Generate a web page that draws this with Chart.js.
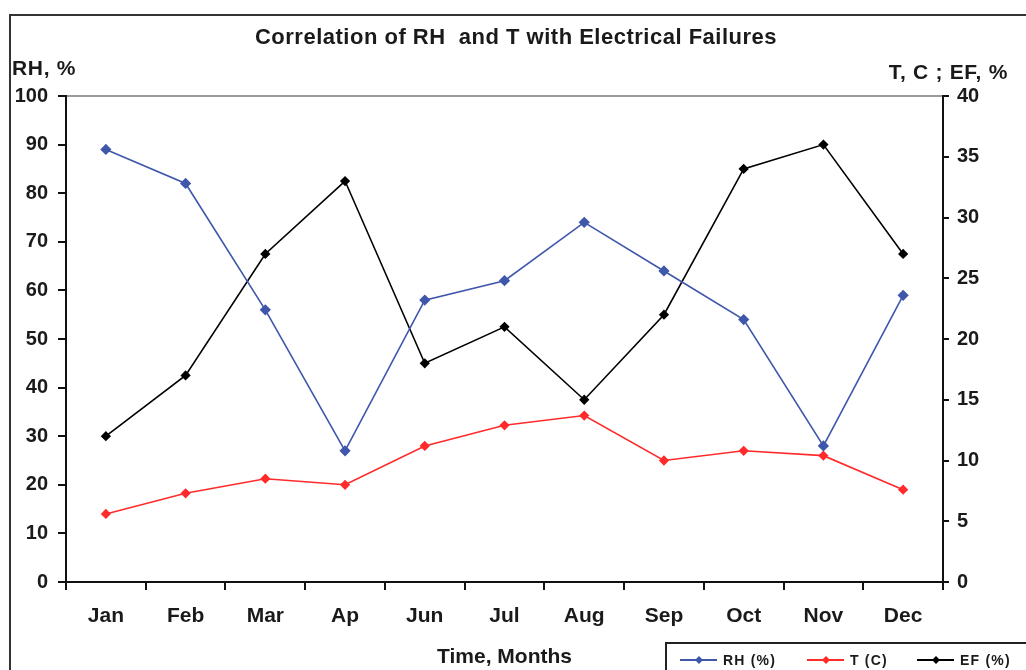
<!DOCTYPE html>
<html>
<head>
<meta charset="utf-8">
<script src="https://cdn.jsdelivr.net/npm/chart.js@4.4.0/dist/chart.umd.min.js"></script>
<style>
  html, body { margin: 0; padding: 0; background: #fff; }
  #wrap { width: 1026px; height: 670px; }
</style>
</head>
<body>
<div id="wrap"><canvas id="chart" width="1026" height="670"></canvas></div>
<script>
const months = ["Jan", "Feb", "Mar", "Ap", "Jun", "Jul", "Aug", "Sep", "Oct", "Nov", "Dec"];
const rh = [89, 82, 56, 27, 58, 62, 74, 64, 54, 28, 59];       // left axis, %
const temp = [5.6, 7.3, 8.5, 8.0, 11.2, 12.9, 13.7, 10.0, 10.8, 10.4, 7.6]; // right axis
const ef = [12, 17, 27, 33, 18, 21, 15, 22, 34, 36, 27];        // right axis, %

const FONT = "'Liberation Sans', Arial, sans-serif";
const TXT = '#1a1a1a';

// frame, titles and legend box
const extras = {
  id: 'extras',
  beforeDraw(chart) {
    const c = chart.ctx;
    c.save();
    c.fillStyle = '#fff';
    c.fillRect(0, 0, chart.width, chart.height);
    c.strokeStyle = '#333';
    c.lineWidth = 2;
    c.strokeRect(10, 15, 1100, 700);
    c.restore();
  },
  afterDraw(chart) {
    const c = chart.ctx;
    c.save();
    c.fillStyle = TXT;
    c.textBaseline = 'middle';
    c.letterSpacing = '0.5px';
    c.font = 'bold 22px ' + FONT;
    c.textAlign = 'center';
    c.fillText('Correlation of RH  and T with Electrical Failures', 516, 38);
    c.letterSpacing = '0.7px';
    c.font = 'bold 21px ' + FONT;
    c.textAlign = 'left';
    c.fillText('RH, %', 12, 69);
    c.textAlign = 'right';
    c.fillText('T, C ; EF, %', 1008, 73);

    // legend
    c.strokeStyle = '#222';
    c.lineWidth = 2;
    c.strokeRect(666, 643, 400, 60);
    const xs = [680, 807, 917];
    const names = ['RH (%)', 'T (C)', 'EF (%)'];
    chart.data.datasets.forEach((ds, i) => {
      const x = xs[i], y = 660;
      c.strokeStyle = ds.borderColor;
      c.lineWidth = 2;
      c.beginPath(); c.moveTo(x, y); c.lineTo(x + 37, y); c.stroke();
      c.fillStyle = ds.borderColor;
      c.beginPath();
      c.moveTo(x + 19, y - 4); c.lineTo(x + 23, y); c.lineTo(x + 19, y + 4); c.lineTo(x + 15, y);
      c.closePath(); c.fill();
      c.fillStyle = TXT;
      c.font = 'bold 14px ' + FONT;
      c.letterSpacing = '1.2px';
      c.textAlign = 'left';
      c.fillText(names[i], x + 43, y + 1);
    });
    c.restore();
  }
};

new Chart(document.getElementById('chart'), {
  type: 'line',
  data: {
    labels: months,
    datasets: [
      { label: 'RH (%)', data: rh, yAxisID: 'y', borderColor: '#3f57ab', backgroundColor: '#3f57ab',
        borderWidth: 1.6, pointStyle: 'rectRot', pointRadius: 4.5, tension: 0 },
      { label: 'T (C)', data: temp, yAxisID: 'y1', borderColor: '#ff2b2b', backgroundColor: '#ff2b2b',
        borderWidth: 1.6, pointStyle: 'rectRot', pointRadius: 4, tension: 0 },
      { label: 'EF (%)', data: ef, yAxisID: 'y1', borderColor: '#000', backgroundColor: '#000',
        borderWidth: 1.6, pointStyle: 'rectRot', pointRadius: 4, tension: 0 }
    ]
  },
  options: {
    responsive: false,
    animation: false,
    layout: { padding: { top: 96, left: 0, right: 0, bottom: 0 } },
    plugins: { legend: { display: false }, title: { display: false }, tooltip: { enabled: false } },
    scales: {
      x: {
        offset: true,
        afterFit: s => { s.height = 88; },
        grid: { offset: true, drawOnChartArea: false, color: '#111', lineWidth: 2, tickLength: 8 },
        border: { color: '#111', width: 2 },
        ticks: { color: TXT, font: { family: FONT, size: 21, weight: 'bold' }, padding: 14, maxRotation: 0 },
        title: { display: true, text: 'Time, Months', color: TXT,
                 font: { family: FONT, size: 21, weight: 'bold' }, padding: { top: 4, bottom: 0 } }
      },
      y: {
        position: 'left', min: 0, max: 100,
        afterFit: s => { s.width = 66; },
        grid: { drawOnChartArea: true, lineWidth: 2, tickLength: 8, tickColor: '#111',
                color: ctx => ctx.tick && ctx.tick.value === 100 ? '#9a9a9a' : 'rgba(0,0,0,0)' },
        border: { color: '#111', width: 2 },
        ticks: { stepSize: 10, color: TXT, font: { family: FONT, size: 20, weight: 'bold' }, padding: 10 }
      },
      y1: {
        position: 'right', min: 0, max: 40,
        afterFit: s => { s.width = 83; },
        grid: { drawOnChartArea: false, color: '#111', lineWidth: 2, tickLength: 6 },
        border: { color: '#111', width: 2 },
        ticks: { stepSize: 5, color: TXT, font: { family: FONT, size: 20, weight: 'bold' }, padding: 8 }
      }
    }
  },
  plugins: [extras]
});
</script>
</body>
</html>
